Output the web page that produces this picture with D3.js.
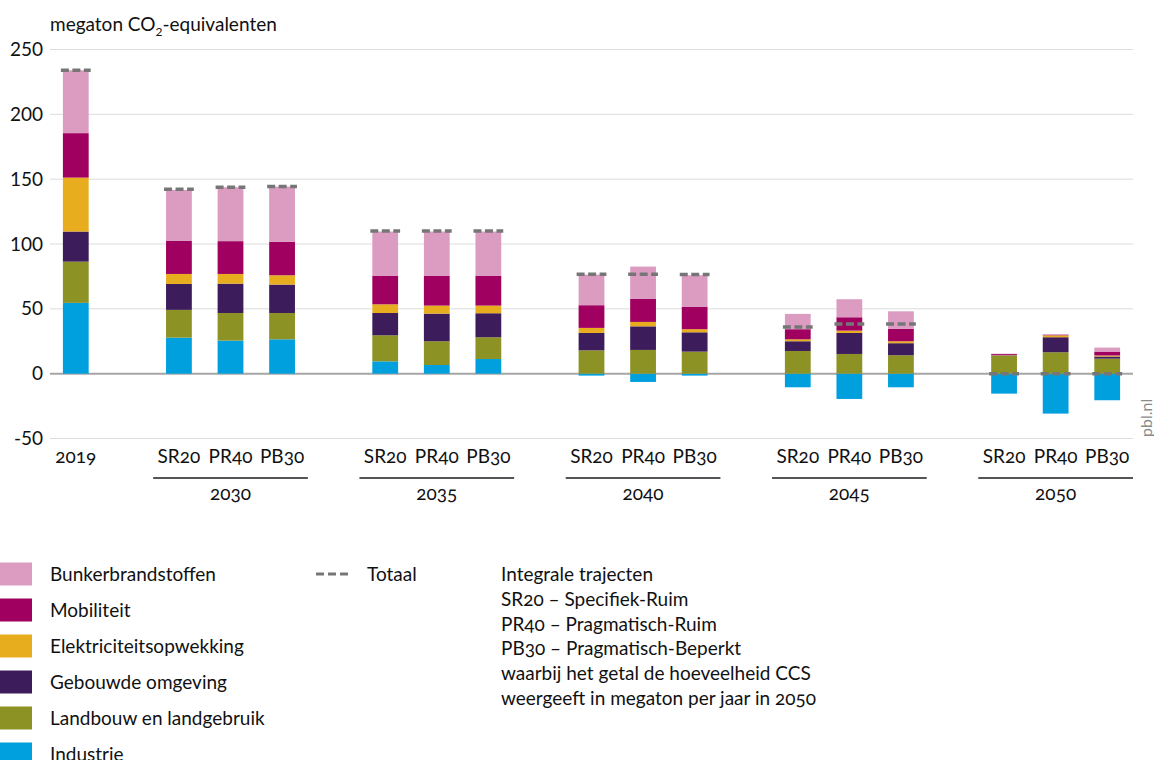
<!DOCTYPE html>
<html>
<head>
<meta charset="utf-8">
<script src="https://cdn.jsdelivr.net/npm/d3@7.9.0/dist/d3.min.js"></script>
<style>
  body { margin: 0; background: #fff; }
  svg { font-family: Lato, "Noto Sans", sans-serif; }
  .onum { font-variant-numeric: oldstyle-nums; font-feature-settings: "onum"; }
</style>
</head>
<body>
<svg id="chart" width="1154" height="760"></svg>
<script>
// sectors, stacked bottom to top
const sectors = ["Industrie", "Landbouw en landgebruik", "Gebouwde omgeving",
  "Elektriciteitsopwekking", "Mobiliteit", "Bunkerbrandstoffen"];
const sectorColors = ["#00a0df", "#8c9223", "#3d1c5b", "#e8ad1e", "#a0005f", "#dc9cc2"];

const years = ["2019", "2030", "2035", "2040", "2045", "2050"];
const scenarios = ["SR20", "PR40", "PB30"];

// one value per bar: 2019, then 2030 SR20/PR40/PB30, 2035 ..., 2050
const industrie  = [54.6, 27.8, 25.5, 26.5, 9.5, 6.7, 11.3, -1.5, -6.4, -1.5, -10.5, -19.5, -10.5, -15.4, -30.8, -20.5];
const landbouw   = [31.8, 21.4, 21.3, 20.3, 20.1, 18.3, 16.8, 18.0, 18.3, 17.0, 17.5, 15.2, 14.2, 13.8, 16.5, 11.6];
const gebouwd    = [23.2, 20.0, 22.6, 21.9, 17.2, 21.3, 18.5, 13.4, 18.2, 14.9, 7.5, 16.2, 9.3, 0.3, 11.6, 1.6];
const elektr     = [41.6, 7.7, 7.5, 7.2, 6.7, 6.2, 5.9, 3.9, 3.4, 2.4, 1.5, 1.8, 1.5, 0.2, 1.5, 0.8];
const mobiliteit = [34.3, 25.7, 25.3, 25.7, 22.1, 23.1, 23.1, 17.5, 17.7, 17.4, 7.8, 10.3, 9.5, 0.8, 0.4, 3.0];
const bunker     = [48.5, 39.1, 41.6, 42.7, 34.0, 34.0, 34.0, 23.6, 25.0, 24.2, 11.8, 13.9, 13.6, 0.3, 0.6, 3.1];
const totaal     = [234, 142.3, 143.8, 144.3, 110, 110, 110, 76.7, 76.7, 76.4, 36, 38.3, 38.3, 0, 0, 0];

const yTicks = [-50, 0, 50, 100, 150, 200, 250];

const noteLines = ["Integrale trajecten", "SR20 – Specifiek-Ruim", "PR40 – Pragmatisch-Ruim",
  "PB30 – Pragmatisch-Beperkt", "waarbij het getal de hoeveelheid CCS",
  "weergeeft in megaton per jaar in 2050"];

// build bar keys and slots (with an empty slot between year groups)
const barKeys = [years[0]];
const slots = [years[0]];
years.slice(1).forEach((y, i) => {
  slots.push("gap" + i);
  scenarios.forEach(s => { barKeys.push(y + " " + s); slots.push(y + " " + s); });
});

const table = barKeys.map((k, i) => ({
  key: k,
  [sectors[0]]: industrie[i], [sectors[1]]: landbouw[i], [sectors[2]]: gebouwd[i],
  [sectors[3]]: elektr[i], [sectors[4]]: mobiliteit[i], [sectors[5]]: bunker[i],
  total: totaal[i]
}));

const svg = d3.select("#chart");
const left = 50, right = 1133;
const fs = 19;

const x = d3.scaleBand().domain(slots).range([left, right]).paddingInner(0.5).paddingOuter(0.25);
const y = d3.scaleLinear().domain([-50, 250]).range([438.5, 49.5]);

// grid
svg.append("g").selectAll("line").data(yTicks).join("line")
  .attr("x1", left).attr("x2", right)
  .attr("y1", d => y(d)).attr("y2", d => y(d))
  .attr("stroke", d => d === 0 ? "#a6a6a6" : "#dcdcdc")
  .attr("stroke-width", d => d === 0 ? 2 : 1);

// y axis labels
svg.append("g").selectAll("text").data(yTicks).join("text")
  .attr("x", 43).attr("y", d => y(d) + 6.5)
  .attr("text-anchor", "end").attr("font-size", fs).attr("fill", "#111")
  .text(d => d);

// title
const title = svg.append("text").attr("x", 50).attr("y", 31).attr("font-size", fs).attr("fill", "#111");
title.append("tspan").text("megaton CO");
title.append("tspan").attr("font-size", 12).attr("dy", 5).text("2");
title.append("tspan").attr("dy", -5).text("-equivalenten");

// stacked bars
const series = d3.stack().keys(sectors).offset(d3.stackOffsetDiverging)(table);
svg.append("g").selectAll("g").data(series).join("g")
  .attr("fill", (d, i) => sectorColors[i])
  .selectAll("rect").data(d => d).join("rect")
  .attr("x", d => x(d.data.key))
  .attr("width", x.bandwidth())
  .attr("y", d => y(d[1]))
  .attr("height", d => Math.max(0, y(d[0]) - y(d[1])));

// totals
svg.append("g").selectAll("line").data(table).join("line")
  .attr("x1", d => x(d.key) - 2).attr("x2", d => x(d.key) + x.bandwidth() + 2)
  .attr("y1", d => y(d.total)).attr("y2", d => y(d.total))
  .attr("stroke", "#767676").attr("stroke-width", 3.5)
  .attr("stroke-dasharray", "8,3.5");

// x labels
svg.append("g").selectAll("text").data(barKeys).join("text")
  .attr("class", "onum")
  .attr("x", d => x(d) + x.bandwidth() / 2).attr("y", 463)
  .attr("text-anchor", "middle").attr("font-size", fs).attr("fill", "#111")
  .text(d => d.split(" ").pop());

// year groups
const groups = years.slice(1);
const gsel = svg.append("g").selectAll("g").data(groups).join("g");
gsel.append("line")
  .attr("x1", d => x(d + " " + scenarios[0]) - x.step() * 0.25)
  .attr("x2", d => x(d + " " + scenarios[2]) + x.bandwidth() + x.step() * 0.25)
  .attr("y1", 478).attr("y2", 478)
  .attr("stroke", "#555").attr("stroke-width", 1.8);
gsel.append("text")
  .attr("class", "onum")
  .attr("x", d => x(d + " " + scenarios[1]) + x.bandwidth() / 2).attr("y", 500)
  .attr("text-anchor", "middle").attr("font-size", fs).attr("fill", "#111")
  .text(d => d);

// pbl.nl
svg.append("text").attr("transform", "translate(1152,437) rotate(-90)")
  .attr("font-size", 16).attr("fill", "#8a8a8a").text("pbl.nl");

// legend (top to bottom)
const legendOrder = sectors.map((s, i) => ({ name: s, color: sectorColors[i] })).reverse();
const leg = svg.append("g").selectAll("g").data(legendOrder).join("g")
  .attr("transform", (d, i) => `translate(0,${574 + i * 36})`);
leg.append("rect").attr("x", 0).attr("y", -11.5).attr("width", 32).attr("height", 23)
  .attr("fill", d => d.color);
leg.append("text").attr("x", 50).attr("y", 7).attr("font-size", fs).attr("fill", "#111")
  .text(d => d.name);

svg.append("line").attr("x1", 316).attr("x2", 349).attr("y1", 574).attr("y2", 574)
  .attr("stroke", "#767676").attr("stroke-width", 3).attr("stroke-dasharray", "8,4");
svg.append("text").attr("x", 367).attr("y", 581).attr("font-size", fs).attr("fill", "#111").text("Totaal");

svg.append("g").selectAll("text").data(noteLines).join("text")
  .attr("class", "onum")
  .attr("x", 501).attr("y", (d, i) => 581 + i * 24.8)
  .attr("font-size", fs).attr("fill", "#111")
  .text(d => d);
</script>
</body>
</html>
